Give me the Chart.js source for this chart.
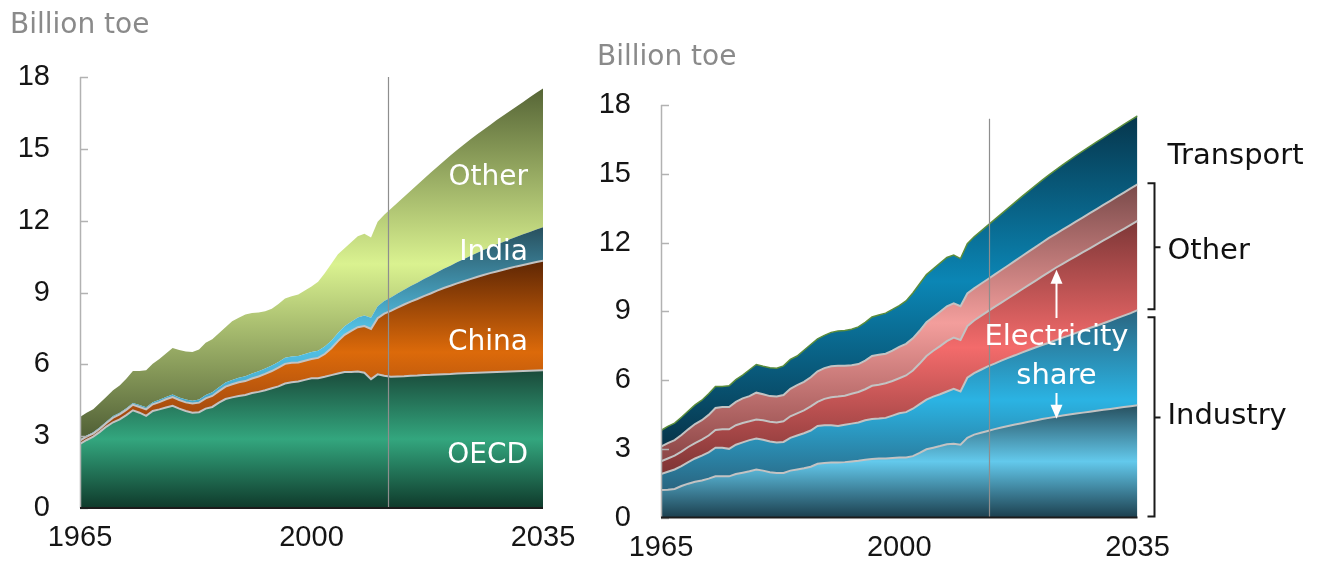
<!DOCTYPE html>
<html>
<head>
<meta charset="utf-8">
<script src="https://cdn.jsdelivr.net/npm/chart.js@4.4.1/dist/chart.umd.min.js"></script>
<style>
  html, body { margin: 0; padding: 0; background: #fff; width: 1322px; height: 565px; overflow: hidden; }
  .panel { position: absolute; top: 0; }
  #leftPanel { left: 0; width: 600px; height: 565px; }
  #rightPanel { left: 580px; width: 742px; height: 565px; }
</style>
</head>
<body>
<div class="panel" id="leftPanel"><canvas id="regionChart" width="600" height="565"></canvas></div>
<div class="panel" id="rightPanel"><canvas id="sectorChart" width="742" height="565"></canvas></div>
<script>
// Primary energy demand, billion tonnes of oil equivalent
const years = [
  1965, 1966, 1967, 1968, 1969, 1970, 1971, 1972, 1973, 1974,
  1975, 1976, 1977, 1978, 1979, 1980, 1981, 1982, 1983, 1984,
  1985, 1986, 1987, 1988, 1989, 1990, 1991, 1992, 1993, 1994,
  1995, 1996, 1997, 1998, 1999, 2000, 2001, 2002, 2003, 2004,
  2005, 2006, 2007, 2008, 2009, 2010, 2011, 2012, 2013, 2014,
  2015, 2016, 2017, 2018, 2019, 2020, 2021, 2022, 2023, 2024,
  2025, 2026, 2027, 2028, 2029, 2030, 2031, 2032, 2033, 2034, 2035
];
const xTickYears = [1965, 2000, 2035];
const yTickValues = [0, 3, 6, 9, 12, 15, 18];

// By region
const oecd = [
  2.68, 2.84, 2.98, 3.18, 3.40, 3.58, 3.70, 3.88, 4.08, 3.98,
  3.85, 4.05, 4.12, 4.20, 4.27, 4.15, 4.05, 3.98, 4.00, 4.15,
  4.22, 4.40, 4.55, 4.62, 4.68, 4.72, 4.80, 4.85, 4.92, 5.00,
  5.08, 5.20, 5.25, 5.28, 5.35, 5.42, 5.42, 5.48, 5.55, 5.62,
  5.68, 5.68, 5.70, 5.65, 5.38, 5.58, 5.52, 5.48, 5.49, 5.50,
  5.52, 5.53, 5.55, 5.56, 5.58, 5.59, 5.60, 5.62, 5.63, 5.64,
  5.65, 5.66, 5.67, 5.68, 5.69, 5.70, 5.71, 5.72, 5.73, 5.74, 5.75
];
const china = [
  0.13, 0.14, 0.13, 0.13, 0.15, 0.19, 0.21, 0.22, 0.23, 0.24,
  0.27, 0.28, 0.30, 0.34, 0.36, 0.36, 0.36, 0.38, 0.40, 0.43,
  0.46, 0.48, 0.52, 0.55, 0.57, 0.58, 0.61, 0.64, 0.68, 0.72,
  0.78, 0.82, 0.82, 0.80, 0.80, 0.80, 0.85, 0.95, 1.12, 1.35,
  1.55, 1.72, 1.85, 1.95, 2.10, 2.35, 2.60, 2.75, 2.88, 3.00,
  3.10, 3.20, 3.30, 3.40, 3.50, 3.60, 3.68, 3.76, 3.84, 3.92,
  4.00, 4.07, 4.14, 4.20, 4.26, 4.32, 4.38, 4.43, 4.48, 4.53, 4.58
];
const india = [
  0.05, 0.05, 0.05, 0.06, 0.06, 0.07, 0.07, 0.07, 0.08, 0.08,
  0.09, 0.09, 0.10, 0.10, 0.11, 0.11, 0.12, 0.12, 0.13, 0.14,
  0.15, 0.16, 0.17, 0.18, 0.19, 0.20, 0.21, 0.22, 0.23, 0.23,
  0.24, 0.25, 0.26, 0.27, 0.28, 0.29, 0.30, 0.31, 0.32, 0.34,
  0.36, 0.38, 0.41, 0.44, 0.47, 0.50, 0.53, 0.56, 0.59, 0.62,
  0.65, 0.68, 0.71, 0.74, 0.77, 0.80, 0.84, 0.88, 0.92, 0.96,
  1.00, 1.04, 1.08, 1.12, 1.16, 1.20, 1.24, 1.28, 1.32, 1.36, 1.40
];
const otherRegions = [
  0.94, 0.95, 0.96, 1.01, 1.04, 1.08, 1.14, 1.23, 1.33, 1.42,
  1.54, 1.60, 1.70, 1.81, 1.94, 1.98, 2.01, 2.04, 2.09, 2.18,
  2.22, 2.26, 2.31, 2.45, 2.51, 2.58, 2.52, 2.45, 2.39, 2.37,
  2.42, 2.48, 2.51, 2.57, 2.65, 2.74, 2.88, 3.06, 3.21, 3.29,
  3.26, 3.32, 3.39, 3.41, 3.35, 3.52, 3.60, 3.71, 3.79, 3.88,
  3.98, 4.09, 4.19, 4.30, 4.39, 4.49, 4.60, 4.69, 4.78, 4.87,
  4.95, 5.03, 5.11, 5.20, 5.28, 5.36, 5.44, 5.53, 5.62, 5.71, 5.79
];

// By sector (industry and other split into non-electricity and electricity)
const industryDirect = [
  1.20, 1.22, 1.25, 1.38, 1.48, 1.56, 1.62, 1.70, 1.80, 1.80,
  1.80, 1.90, 1.96, 2.02, 2.10, 2.05, 1.98, 1.95, 1.95, 2.05,
  2.10, 2.15, 2.22, 2.35, 2.38, 2.40, 2.40, 2.42, 2.45, 2.48,
  2.52, 2.56, 2.58, 2.58, 2.60, 2.62, 2.62, 2.68, 2.82, 2.98,
  3.05, 3.12, 3.20, 3.22, 3.18, 3.48, 3.62, 3.70, 3.78, 3.86,
  3.93, 4.00, 4.06, 4.12, 4.18, 4.24, 4.30, 4.35, 4.40, 4.45,
  4.50, 4.54, 4.58, 4.62, 4.66, 4.70, 4.74, 4.78, 4.82, 4.86, 4.90
];
const industryPower = [
  0.70, 0.78, 0.85, 0.87, 0.94, 1.02, 1.08, 1.15, 1.25, 1.25,
  1.20, 1.28, 1.32, 1.36, 1.35, 1.35, 1.34, 1.33, 1.35, 1.43,
  1.48, 1.53, 1.58, 1.65, 1.65, 1.63, 1.60, 1.63, 1.65, 1.67,
  1.73, 1.74, 1.74, 1.77, 1.85, 1.93, 1.98, 2.07, 2.13, 2.17,
  2.23, 2.26, 2.30, 2.40, 2.32, 2.62, 2.68, 2.75, 2.82, 2.86,
  2.92, 2.97, 3.02, 3.08, 3.13, 3.18, 3.23, 3.28, 3.34, 3.40,
  3.45, 3.52, 3.58, 3.65, 3.71, 3.78, 3.85, 3.92, 3.99, 4.06, 4.15
];
const otherPower = [
  0.55, 0.58, 0.60, 0.63, 0.66, 0.67, 0.70, 0.73, 0.77, 0.80,
  0.85, 0.85, 0.85, 0.82, 0.83, 0.85, 0.86, 0.87, 0.90, 0.94,
  0.97, 1.00, 1.05, 1.05, 1.15, 1.22, 1.28, 1.27, 1.30, 1.33,
  1.35, 1.45, 1.48, 1.51, 1.51, 1.53, 1.60, 1.67, 1.77, 1.90,
  2.00, 2.10, 2.20, 2.23, 2.25, 2.25, 2.30, 2.35, 2.40, 2.47,
  2.53, 2.60, 2.68, 2.75, 2.83, 2.91, 2.99, 3.08, 3.16, 3.22,
  3.29, 3.35, 3.42, 3.48, 3.55, 3.61, 3.67, 3.73, 3.79, 3.85, 3.89
];
const otherDirect = [
  0.65, 0.67, 0.68, 0.72, 0.77, 0.83, 0.85, 0.90, 0.96, 0.97,
  0.97, 1.02, 1.07, 1.10, 1.17, 1.13, 1.12, 1.13, 1.15, 1.20,
  1.23, 1.24, 1.27, 1.33, 1.34, 1.35, 1.34, 1.30, 1.25, 1.22,
  1.25, 1.30, 1.30, 1.29, 1.32, 1.37, 1.38, 1.40, 1.43, 1.47,
  1.47, 1.50, 1.52, 1.50, 1.47, 1.43, 1.40, 1.40, 1.40, 1.41,
  1.42, 1.43, 1.44, 1.45, 1.46, 1.47, 1.48, 1.49, 1.48, 1.49,
  1.50, 1.51, 1.52, 1.53, 1.54, 1.55, 1.56, 1.57, 1.58, 1.59, 1.60
];
const transport = [
  0.70, 0.73, 0.74, 0.78, 0.80, 0.84, 0.87, 0.92, 0.94, 0.90,
  0.93, 0.97, 1.02, 1.15, 1.23, 1.22, 1.24, 1.24, 1.27, 1.28,
  1.27, 1.38, 1.43, 1.42, 1.43, 1.48, 1.52, 1.54, 1.57, 1.62,
  1.67, 1.70, 1.74, 1.77, 1.80, 1.80, 1.87, 1.98, 2.05, 2.08,
  2.10, 2.12, 2.13, 2.10, 2.08, 2.17, 2.25, 2.30, 2.35, 2.40,
  2.45, 2.50, 2.55, 2.60, 2.64, 2.68, 2.72, 2.75, 2.79, 2.83,
  2.86, 2.88, 2.90, 2.92, 2.93, 2.94, 2.95, 2.96, 2.97, 2.98, 2.98
];

// Divider between history and projection on each panel
const dividerRegion = 2011.6;
const dividerSector = 2013.2;
const arrowYear = 2023;

Chart.defaults.font.family = "'Liberation Sans', Arial, sans-serif";
Chart.defaults.animation = false;
const WORD_FONT = "'DejaVu Sans', 'Liberation Sans', sans-serif";

function pts(vals) { return years.map((yr, i) => ({ x: yr, y: vals[i] })); }

// running totals for each stacked layer
function stackTops(layers) {
  const base = years.map(() => 0);
  return layers.map(s => s.map((v, i) => (base[i] += v)));
}
function stackExtents(layers) {
  const base = years.map(() => 0);
  return layers.map(s => {
    let lo = Infinity, hi = -Infinity;
    s.forEach((v, i) => { lo = Math.min(lo, base[i]); base[i] += v; hi = Math.max(hi, base[i]); });
    return { lo, hi };
  });
}

// Reflected vertical gradient spanning the band: dark edges, light centre
function bandFill(ext, cols) {
  return (c) => {
    const ch = c.chart, y = ch.scales.y;
    if (!ch.chartArea || !y) return cols[1];
    const g = ch.ctx.createLinearGradient(0, y.getPixelForValue(ext.hi), 0, y.getPixelForValue(ext.lo));
    g.addColorStop(0, cols[0]);
    g.addColorStop(0.5, cols[1]);
    g.addColorStop(1, cols[2]);
    return g;
  };
}

function layer(label, vals, idx, ext, cols, line) {
  return {
    label, data: pts(vals), fill: idx === 0 ? 'origin' : '-1',
    backgroundColor: bandFill(ext, cols),
    borderColor: line ? line.color : 'rgba(0,0,0,0)',
    borderWidth: line ? line.width : 0,
    pointRadius: 0, pointHoverRadius: 0, tension: 0
  };
}

function scalesFor(yWidth, xHeight) {
  return {
    x: {
      type: 'linear', min: years[0], max: years[years.length - 1],
      afterBuildTicks: s => { s.ticks = xTickYears.map(v => ({ value: v })); },
      afterFit: s => { s.height = xHeight; },
      grid: { display: false, drawTicks: false }, border: { display: false },
      ticks: { autoSkip: false, maxRotation: 0, padding: 13, color: '#151515',
               font: { size: 29 }, callback: v => String(v) }
    },
    y: {
      stacked: true, min: 0, max: 18,
      afterBuildTicks: s => { s.ticks = yTickValues.map(v => ({ value: v })); },
      afterFit: s => { s.width = yWidth; },
      grid: { display: false, drawTicks: false }, border: { display: false },
      ticks: { padding: 30, color: '#151515', font: { size: 29 }, callback: v => String(v) }
    }
  };
}

function drawFrame(chart, tickLen) {
  const { ctx, chartArea: a, scales: { y } } = chart;
  ctx.save();
  ctx.strokeStyle = '#b2b2b2';
  ctx.lineWidth = 1.5;
  ctx.beginPath();
  ctx.moveTo(a.left + 0.5, y.getPixelForValue(yTickValues[yTickValues.length - 1]));
  ctx.lineTo(a.left + 0.5, a.bottom);
  yTickValues.forEach(v => {
    const py = Math.round(y.getPixelForValue(v)) + 0.5;
    ctx.moveTo(a.left, py); ctx.lineTo(a.left + tickLen, py);
  });
  ctx.stroke();
  ctx.strokeStyle = '#1c1c1c';
  ctx.lineWidth = 2;
  ctx.beginPath();
  ctx.moveTo(a.left, a.bottom); ctx.lineTo(a.right, a.bottom);
  ctx.stroke();
  ctx.restore();
}

function drawDivider(chart, year, fromValue) {
  const { ctx, scales: { x, y } } = chart;
  const px = Math.round(x.getPixelForValue(year)) + 0.5;
  ctx.save();
  ctx.strokeStyle = '#8e8e8e';
  ctx.lineWidth = 1.2;
  ctx.beginPath();
  ctx.moveTo(px, y.getPixelForValue(fromValue));
  ctx.lineTo(px, y.getPixelForValue(0));
  ctx.stroke();
  ctx.restore();
}

function text(ctx, str, x, y, size, color, align, family) {
  ctx.save();
  ctx.font = size + 'px ' + (family || WORD_FONT);
  ctx.fillStyle = color;
  ctx.textAlign = align || 'left';
  ctx.textBaseline = 'alphabetic';
  ctx.fillText(str, x, y);
  ctx.restore();
}

/* ---------- Left panel: demand by region ---------- */
const regionLayers = [oecd, china, india, otherRegions];
const regionExt = stackExtents(regionLayers);
const grayEdge = { color: '#c3c3c3', width: 2 };

const regionDecor = {
  id: 'regionDecor',
  afterDatasetsDraw(chart) {
    const { ctx, chartArea: a } = chart;
    drawDivider(chart, dividerRegion, 18);
    drawFrame(chart, 8);
    const rx = a.right - 15;
    text(ctx, 'Other', rx, 185, 28, '#ffffff', 'right');
    text(ctx, 'India', rx, 260, 28, '#ffffff', 'right');
    text(ctx, 'China', rx, 350, 28, '#ffffff', 'right');
    text(ctx, 'OECD', rx, 463, 28, '#ffffff', 'right');
    text(ctx, 'Billion toe', 10, 33, 28, '#8a8a8a', 'left');
  }
};

new Chart(document.getElementById('regionChart'), {
  type: 'line',
  data: {
    datasets: [
      layer('OECD', oecd, 0, regionExt[0], ['#1a4a3a', '#33a67e', '#0f3a2b'], grayEdge),
      layer('China', china, 1, regionExt[1], ['#5e2604', '#dc6a0a', '#8a3c12'], grayEdge),
      layer('India', india, 2, regionExt[2], ['#28505e', '#55c5ea', '#3f98b8'], null),
      layer('Other', otherRegions, 3, regionExt[3], ['#566536', '#daf290', '#4f5e35'], null)
    ]
  },
  options: {
    responsive: false, devicePixelRatio: 1,
    layout: { padding: { top: 77, right: 57, left: 0, bottom: 0 } },
    plugins: { legend: { display: false }, tooltip: { enabled: false } },
    scales: scalesFor(80, 57)
  },
  plugins: [regionDecor]
});

/* ---------- Right panel: demand by sector ---------- */
const sectorLayers = [industryDirect, industryPower, otherPower, otherDirect, transport];
const sectorExt = stackExtents(sectorLayers);
const sectorTops = stackTops(sectorLayers);

function bracket(ctx, x, top, bottom, mid) {
  ctx.beginPath();
  ctx.moveTo(x - 7, top); ctx.lineTo(x, top); ctx.lineTo(x, bottom); ctx.lineTo(x - 7, bottom);
  ctx.moveTo(x, mid); ctx.lineTo(x + 6, mid);
  ctx.stroke();
}

function arrow(ctx, x, from, to) {
  const dir = to < from ? -1 : 1;
  ctx.beginPath();
  ctx.moveTo(x, from); ctx.lineTo(x, to - dir * 12);
  ctx.stroke();
  ctx.beginPath();
  ctx.moveTo(x, to);
  ctx.lineTo(x - 6, to - dir * 14);
  ctx.lineTo(x + 6, to - dir * 14);
  ctx.closePath();
  ctx.fill();
}

const sectorDecor = {
  id: 'sectorDecor',
  afterDatasetsDraw(chart) {
    const { ctx, chartArea: a, scales: { x, y } } = chart;
    drawDivider(chart, dividerSector, 17.4);
    drawFrame(chart, 8);

    const last = years.length - 1;
    const bx = Math.round(a.right + 16) + 0.5;
    ctx.save();
    ctx.strokeStyle = '#1a1a1a';
    ctx.lineWidth = 2;
    const yOtherTop = y.getPixelForValue(sectorTops[3][last]);
    const yIndTop = y.getPixelForValue(sectorTops[1][last]);
    bracket(ctx, bx, yOtherTop - 1, yIndTop - 1, (yOtherTop + yIndTop) / 2);
    bracket(ctx, bx, yIndTop + 7, a.bottom - 1, (yIndTop + 7 + a.bottom) / 2);
    ctx.restore();

    const lx = a.right + 30;
    text(ctx, 'Transport', lx, 164, 29, '#111111', 'left');
    text(ctx, 'Other', lx, 259, 29, '#111111', 'left');
    text(ctx, 'Industry', lx, 424, 29, '#111111', 'left');

    // electricity share callout
    const ai = years.indexOf(arrowYear);
    const ax = Math.round(x.getPixelForValue(arrowYear)) + 0.5;
    text(ctx, 'Electricity', ax, 345, 29, '#ffffff', 'center');
    text(ctx, 'share', ax, 384, 29, '#ffffff', 'center');
    ctx.save();
    ctx.strokeStyle = '#ffffff';
    ctx.fillStyle = '#ffffff';
    ctx.lineWidth = 2;
    arrow(ctx, ax, 318, y.getPixelForValue(sectorTops[2][ai]) + 2);
    arrow(ctx, ax, 393, y.getPixelForValue(sectorTops[0][ai]) + 2);
    ctx.restore();

    text(ctx, 'Billion toe', 17, 65, 28, '#8a8a8a', 'left');
  }
};

new Chart(document.getElementById('sectorChart'), {
  type: 'line',
  data: {
    datasets: [
      layer('Industry', industryDirect, 0, sectorExt[0], ['#27505f', '#63c9ec', '#1c3f4e'], grayEdge),
      layer('Industry electricity', industryPower, 1, sectorExt[1], ['#2a6580', '#2bb3e3', '#2a6580'], grayEdge),
      layer('Other electricity', otherPower, 2, sectorExt[2], ['#7d3737', '#f36b6b', '#7d3434'], grayEdge),
      layer('Other', otherDirect, 3, sectorExt[3], ['#7a4a4a', '#f39e9c', '#8a4444'], grayEdge),
      layer('Transport', transport, 4, sectorExt[4], ['#06364c', '#0b86b5', '#073449'], { color: '#5b8d3c', width: 1.5 })
    ]
  },
  options: {
    responsive: false, devicePixelRatio: 1,
    layout: { padding: { top: 105, right: 184.5, left: 0, bottom: 0 } },
    plugins: { legend: { display: false }, tooltip: { enabled: false } },
    scales: scalesFor(81, 47)
  },
  plugins: [sectorDecor]
});
</script>
</body>
</html>
